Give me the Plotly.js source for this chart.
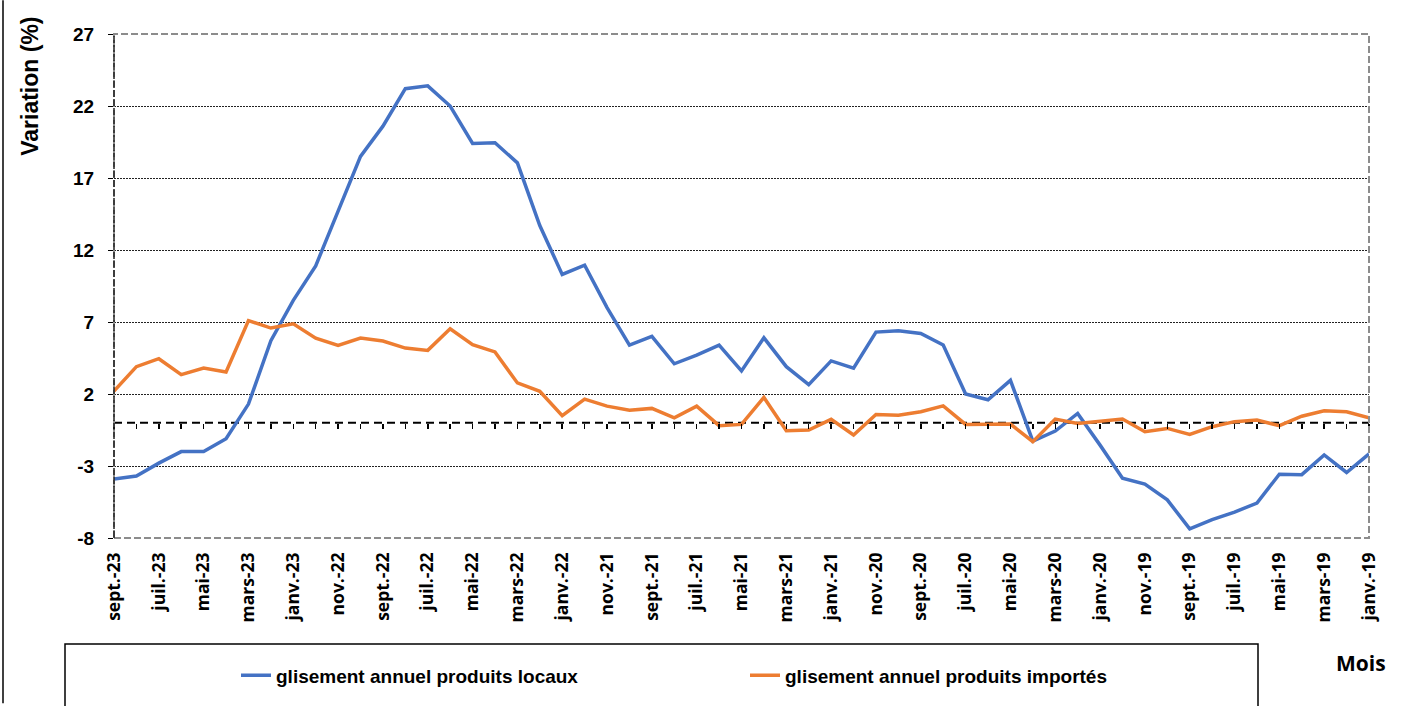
<!DOCTYPE html>
<html>
<head>
<meta charset="utf-8">
<script src="https://cdn.plot.ly/plotly-3.0.1.min.js"></script>
<style>html,body{margin:0;padding:0;background:#fff;}#chart{width:1409px;height:706px;}</style>
</head>
<body>
<div id="chart"></div>
<script>
// Months, most recent first (as in the reference, read right-to-left in time)
const categories = [
  "sept.-23","août-23","juil.-23","juin-23","mai-23","avr.-23","mars-23","févr.-23","janv.-23",
  "déc.-22","nov.-22","oct.-22","sept.-22","août-22","juil.-22","juin-22","mai-22","avr.-22","mars-22","févr.-22","janv.-22",
  "déc.-21","nov.-21","oct.-21","sept.-21","août-21","juil.-21","juin-21","mai-21","avr.-21","mars-21","févr.-21","janv.-21",
  "déc.-20","nov.-20","oct.-20","sept.-20","août-20","juil.-20","juin-20","mai-20","avr.-20","mars-20","févr.-20","janv.-20",
  "déc.-19","nov.-19","oct.-19","sept.-19","août-19","juil.-19","juin-19","mai-19","avr.-19","mars-19","févr.-19","janv.-19"
];

const locaux = [
  -3.9, -3.7, -2.8, -2.0, -2.0, -1.1, 1.3, 5.7, 8.5,
  10.9, 14.7, 18.5, 20.6, 23.2, 23.4, 22.0, 19.4, 19.45, 18.05, 13.7, 10.3,
  10.95, 8.0, 5.4, 6.0, 4.1, 4.7, 5.4, 3.6, 5.9, 3.9, 2.65, 4.3,
  3.8, 6.3, 6.4, 6.2, 5.4, 2.0, 1.6, 2.95, -1.27, -0.57, 0.65, -1.55,
  -3.85, -4.26, -5.35, -7.37, -6.73, -6.2, -5.57, -3.57, -3.6, -2.23, -3.45, -2.16
];

const importes = [
  2.2, 3.9, 4.45, 3.35, 3.8, 3.53, 7.1, 6.58, 6.87,
  5.88, 5.37, 5.88, 5.68, 5.19, 5.03, 6.53, 5.43, 4.92, 2.77, 2.19, 0.49,
  1.64, 1.16, 0.88, 1.0, 0.35, 1.16, -0.2, -0.11, 1.76, -0.55, -0.5, 0.24,
  -0.85, 0.58, 0.53, 0.77, 1.18, -0.11, -0.09, -0.09, -1.31, 0.26, -0.04, 0.08,
  0.26, -0.62, -0.39, -0.8, -0.27, 0.08, 0.19, -0.2, 0.46, 0.84, 0.77, 0.35
];

const seriesNames = ["glisement annuel produits locaux", "glisement annuel produits importés"];
const yTicks = [-8, -3, 2, 7, 12, 17, 22, 27];
const yTickText = ["-8", "-3", "2", "7", "12", "17", "22", "27"];
const tickLabels = categories.filter((c, i) => i % 2 === 0);

const W = 1409, H = 706;
const M = {l: 114, r: 40, t: 34, b: 166};
const PW = W - M.l - M.r, PH = H - M.t - M.b;
const px = x => (x - M.l) / PW;       // pixel -> paper x
const py = y => (H - M.b - y) / PH;   // pixel -> paper y
const yMin = -8, yMax = 27;

const traces = [
  {x: categories, y: locaux, type: 'scatter', mode: 'lines', name: seriesNames[0],
   line: {color: '#4472C4', width: 3.5}},
  {x: categories, y: importes, type: 'scatter', mode: 'lines', name: seriesNames[1],
   line: {color: '#ED7D31', width: 3.5}},
  // empty helper trace so the monthly tick axis on the zero line is drawn
  {x: [0, categories.length - 1], y: [null, null], xaxis: 'x2', yaxis: 'y', type: 'scatter',
   mode: 'lines', showlegend: false, hoverinfo: 'skip', line: {width: 0}}
];

const layout = {
  width: W, height: H,
  margin: M,
  paper_bgcolor: '#fff', plot_bgcolor: '#fff',
  showlegend: true,
  legend: {
    orientation: 'h', x: px(236), xanchor: 'left', y: py(678), yanchor: 'middle',
    font: {family: 'Liberation Sans, Arial, sans-serif', size: 19, weight: 700, color: '#000'},
    entrywidth: 464, entrywidthmode: 'pixels', bgcolor: 'rgba(0,0,0,0)', borderwidth: 0
  },
  xaxis: {
    type: 'category', categoryorder: 'array', categoryarray: categories,
    range: [0, categories.length - 1],
    tickmode: 'array', tickvals: tickLabels, ticktext: tickLabels,
    tickangle: -90, ticks: '', showgrid: false, zeroline: false, showline: false,
    tickfont: {family: 'Open Sans, sans-serif', size: 17.5, weight: 700, color: '#000'},
    ticklabelstandoff: 10
  },
  xaxis2: {
    overlaying: 'x', anchor: 'free', position: (0 - yMin) / (yMax - yMin),
    type: 'linear', range: [0, categories.length - 1], tickmode: 'linear', tick0: 0, dtick: 1,
    ticks: 'outside', ticklen: 5, tickwidth: 1.5, tickcolor: '#000',
    showticklabels: false, showgrid: false, zeroline: false, showline: false
  },
  yaxis: {
    range: [yMin, yMax], tickmode: 'array', tickvals: yTicks, ticktext: yTickText,
    ticks: 'outside', ticklen: 5, tickwidth: 1, tickcolor: '#000',
    showgrid: true, gridcolor: '#222', gridwidth: 1, griddash: '2px,1px',
    zeroline: false, showline: false,
    tickfont: {family: 'Liberation Sans, Arial, sans-serif', size: 19, weight: 700, color: '#000'},
    ticklabelstandoff: 10
  },
  shapes: [
    {type: 'rect', xref: 'paper', yref: 'paper', x0: 0, x1: 1, y0: 0, y1: 1,
     line: {color: '#8c8c8c', width: 2, dash: '7px,3px'}, layer: 'above'},
    {type: 'line', xref: 'paper', yref: 'paper', x0: 0, x1: 0, y0: 0, y1: 1,
     line: {color: '#222', width: 1.5, dash: '7px,2px'}, layer: 'above'},
    {type: 'line', xref: 'paper', yref: 'y', x0: 0, x1: 1, y0: 0, y1: 0,
     line: {color: '#000', width: 2, dash: '8px,5px'}, layer: 'below'},
    {type: 'rect', xref: 'paper', yref: 'paper', x0: px(65), x1: px(1258), y0: py(646.5), y1: py(740),
     line: {color: '#000', width: 1.5}},
    {type: 'line', xref: 'paper', yref: 'paper', x0: px(3), x1: px(3), y0: py(0), y1: py(706),
     line: {color: '#000', width: 1.5}}
  ],
  annotations: [
    {text: 'Variation (%)', xref: 'paper', yref: 'paper', x: px(30), y: py(87),
     xanchor: 'center', yanchor: 'middle', textangle: -90, showarrow: false,
     font: {family: 'Liberation Sans, Arial, sans-serif', size: 23, weight: 700, color: '#000'}},
    {text: 'Mois', xref: 'paper', yref: 'paper', x: px(1361), y: py(665),
     xanchor: 'center', yanchor: 'middle', showarrow: false,
     font: {family: 'Open Sans, sans-serif', size: 21, weight: 700, color: '#000'}}
  ]
};

Plotly.newPlot('chart', traces, layout, {displayModeBar: false, staticPlot: true});
</script>
</body>
</html>
